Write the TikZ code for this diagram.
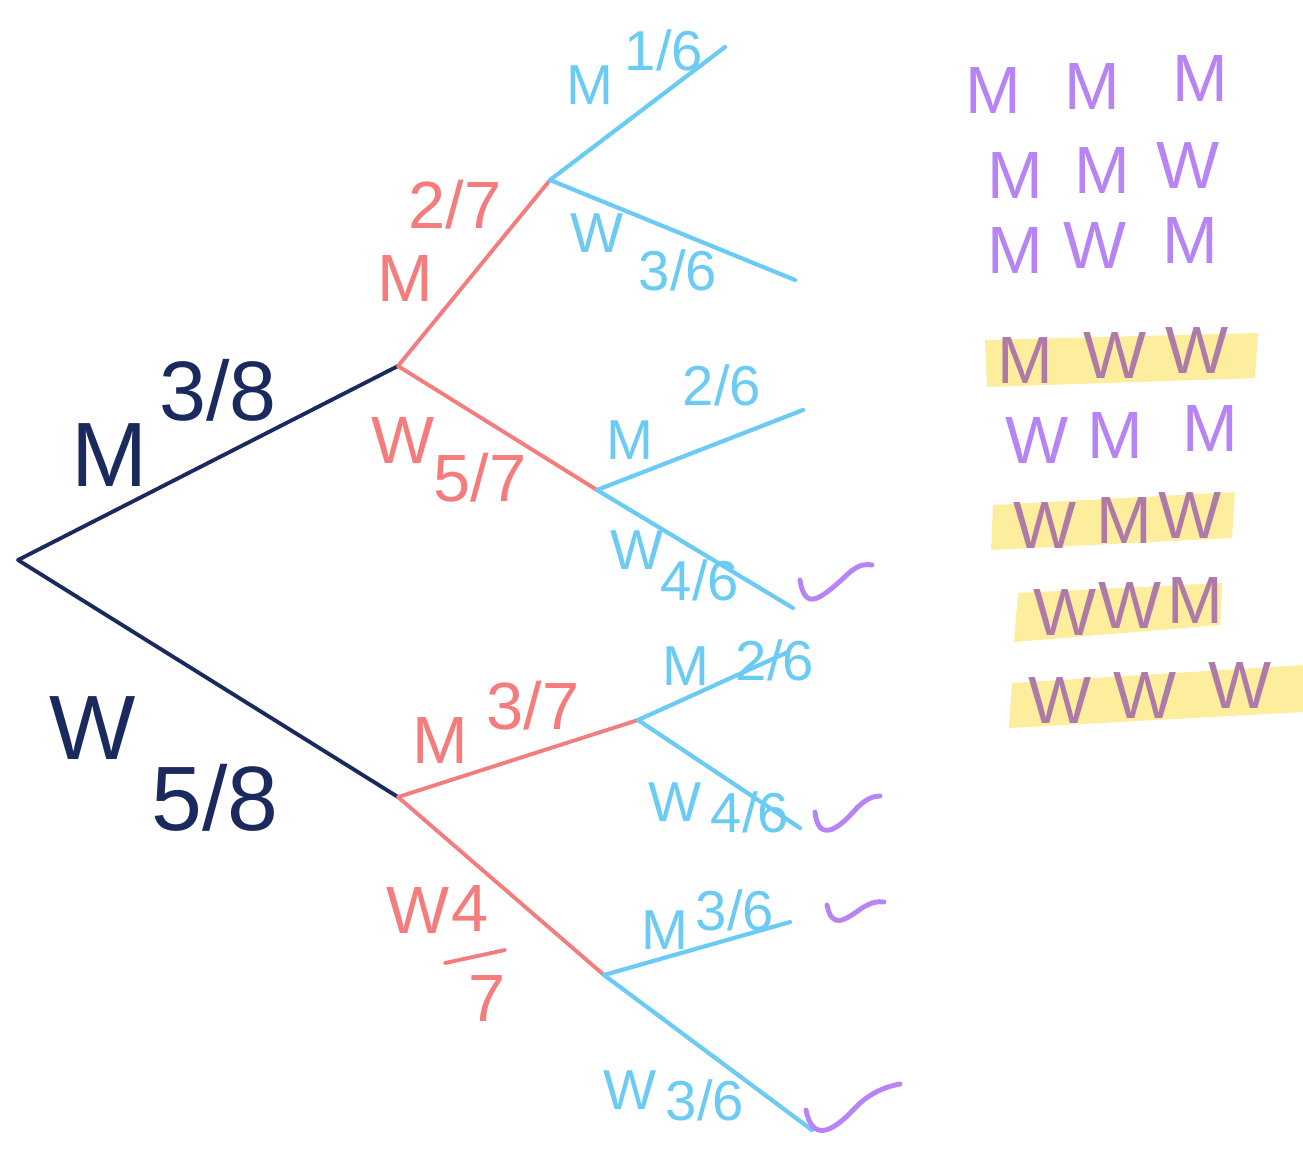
\documentclass[tikz,border=0pt]{standalone}
\usepackage{fontspec}
\setmainfont{Liberation Sans}
\definecolor{navy}{HTML}{1B2A5E}
\definecolor{redb}{HTML}{F47C7C}
\definecolor{blueb}{HTML}{6CCBF5}
\definecolor{purp}{HTML}{B784F5}
\definecolor{purpd}{HTML}{B07AA8}
\definecolor{hiyel}{HTML}{FDEE9E}
\begin{document}
\begin{tikzpicture}[x=0.01cm,y=-0.01cm,
  navyline/.style={navy,line width=1.1pt,line cap=round},
  redline/.style={redb,line width=1.1pt,line cap=round},
  blueline/.style={blueb,line width=1.2pt,line cap=round},
  checkline/.style={purp,line width=1.4pt,line cap=round},
  navytxt/.style={text=navy,font=\fontsize{26}{28}\selectfont,inner sep=0pt},
  redtxt/.style={text=redb,font=\fontsize{19}{21}\selectfont,inner sep=0pt},
  bluetxt/.style={text=blueb,font=\fontsize{16}{18}\selectfont,inner sep=0pt},
  listtxt/.style={text=purp,font=\fontsize{19}{21}\selectfont,inner sep=0pt},
  hitxt/.style={text=purpd,font=\fontsize{19}{21}\selectfont,inner sep=0pt},
  hibar/.style={fill=hiyel,draw=none}]
\useasboundingbox (0,0) rectangle (1303,1153);
% tree points
\coordinate (root) at (18,560);
\coordinate (m1) at (398,366);
\coordinate (w1) at (398,797);
\coordinate (mm) at (550,180);
\coordinate (mw) at (597,490);
\coordinate (wm) at (638,720);
\coordinate (ww) at (604,975);
\coordinate (mmm) at (725,47);
\coordinate (mmw) at (795,280);
\coordinate (mwm) at (803,410);
\coordinate (mww) at (793,608);
\coordinate (wmm) at (788,652);
\coordinate (wmw) at (800,828);
\coordinate (wwm) at (790,922);
\coordinate (www) at (812,1130);
% branches
\draw[navyline] (root) -- (m1);
\draw[navyline] (root) -- (w1);
\draw[redline] (m1) -- (mm);
\draw[redline] (m1) -- (mw);
\draw[redline] (w1) -- (wm);
\draw[redline] (w1) -- (ww);
\draw[blueline] (mm) -- (mmm);
\draw[blueline] (mm) -- (mmw);
\draw[blueline] (mw) -- (mwm);
\draw[blueline] (mw) -- (mww);
\draw[blueline] (wm) -- (wmm);
\draw[blueline] (wm) -- (wmw);
\draw[blueline] (ww) -- (wwm);
\draw[blueline] (ww) -- (www);
% navy labels
\node[navytxt] (lM1) at (110,455) {M};
\node[navytxt,font=\fontsize{24}{26}\selectfont] (pM1) at (218,390) {3/8};
\node[navytxt] (lW1) at (93,728) {W};
\node[navytxt] (pW1) at (215,798) {5/8};
% red labels
\node[redtxt] (lMM) at (405,278) {M};
\node[redtxt] (pMM) at (455,205) {2/7};
\node[redtxt] (lMW) at (403,440) {W};
\node[redtxt] (pMW) at (480,478) {5/7};
\node[redtxt] (lWM) at (440,740) {M};
\node[redtxt] (pWM) at (533,706) {3/7};
\node[redtxt] (lWW) at (418,910) {W};
\node[redtxt] (nWW) at (470,908) {4};
\node[redtxt] (dWW) at (487,998) {7};
\draw[redline] (445,963) -- (505,950);
% blue labels
\node[bluetxt] (lMMM) at (590,85) {M};
\node[bluetxt] (pMMM) at (664,50) {1/6};
\node[bluetxt] (lMMW) at (597,233) {W};
\node[bluetxt] (pMMW) at (678,270) {3/6};
\node[bluetxt] (lMWM) at (630,440) {M};
\node[bluetxt] (pMWM) at (722,385) {2/6};
\node[bluetxt] (lMWW) at (637,550) {W};
\node[bluetxt] (pMWW) at (700,580) {4/6};
\node[bluetxt] (lWMM) at (686,666) {M};
\node[bluetxt] (pWMM) at (775,660) {2/6};
\node[bluetxt] (lWMW) at (675,802) {W};
\node[bluetxt] (pWMW) at (750,812) {4/6};
\node[bluetxt] (lWWM) at (665,930) {M};
\node[bluetxt] (pWWM) at (735,910) {3/6};
\node[bluetxt] (lWWW) at (630,1090) {W};
\node[bluetxt] (pWWW) at (705,1100) {3/6};
% check marks
\draw[checkline] (800,580) .. controls (805,612) and (820,600) .. (850,572) .. controls (860,564) and (866,564) .. (872,565);
\draw[checkline] (815,812) .. controls (818,840) and (835,833) .. (855,810) .. controls (866,798) and (874,796) .. (880,796);
\draw[checkline] (827,905) .. controls (832,930) and (845,920) .. (862,908) .. controls (872,902) and (878,901) .. (884,902);
\draw[checkline] (806,1110) .. controls (812,1140) and (830,1135) .. (855,1108) .. controls (870,1092) and (888,1086) .. (900,1084);
% highlight bars
\fill[hibar] (985,340) -- (1258,333) -- (1255,378) -- (987,387) -- cycle;
\fill[hibar] (993,505) -- (1235,492) -- (1232,538) -- (991,550) -- cycle;
\fill[hibar] (1018,593) -- (1222,583) -- (1220,625) -- (1014,642) -- cycle;
\fill[hibar] (1012,683) -- (1303,665) -- (1303,712) -- (1009,728) -- cycle;
% outcome list
\node[listtxt] (r1a) at (993,90) {M};
\node[listtxt] (r1b) at (1092,86) {M};
\node[listtxt] (r1c) at (1200,78) {M};
\node[listtxt] (r2a) at (1015,175) {M};
\node[listtxt] (r2b) at (1102,170) {M};
\node[listtxt] (r2c) at (1188,165) {W};
\node[listtxt] (r3a) at (1015,250) {M};
\node[listtxt] (r3b) at (1095,245) {W};
\node[listtxt] (r3c) at (1190,240) {M};
\node[hitxt] (r4a) at (1025,360) {M};
\node[hitxt] (r4b) at (1115,355) {W};
\node[hitxt] (r4c) at (1197,350) {W};
\node[listtxt] (r5a) at (1037,440) {W};
\node[listtxt] (r5b) at (1115,435) {M};
\node[listtxt] (r5c) at (1210,428) {M};
\node[hitxt] (r6a) at (1045,525) {W};
\node[hitxt] (r6b) at (1124,520) {M};
\node[hitxt] (r6c) at (1190,515) {W};
\node[hitxt] (r7a) at (1065,612) {W};
\node[hitxt] (r7b) at (1130,605) {W};
\node[hitxt] (r7c) at (1195,600) {M};
\node[hitxt] (r8a) at (1060,700) {W};
\node[hitxt] (r8b) at (1145,695) {W};
\node[hitxt] (r8c) at (1240,685) {W};
\end{tikzpicture}
\end{document}
